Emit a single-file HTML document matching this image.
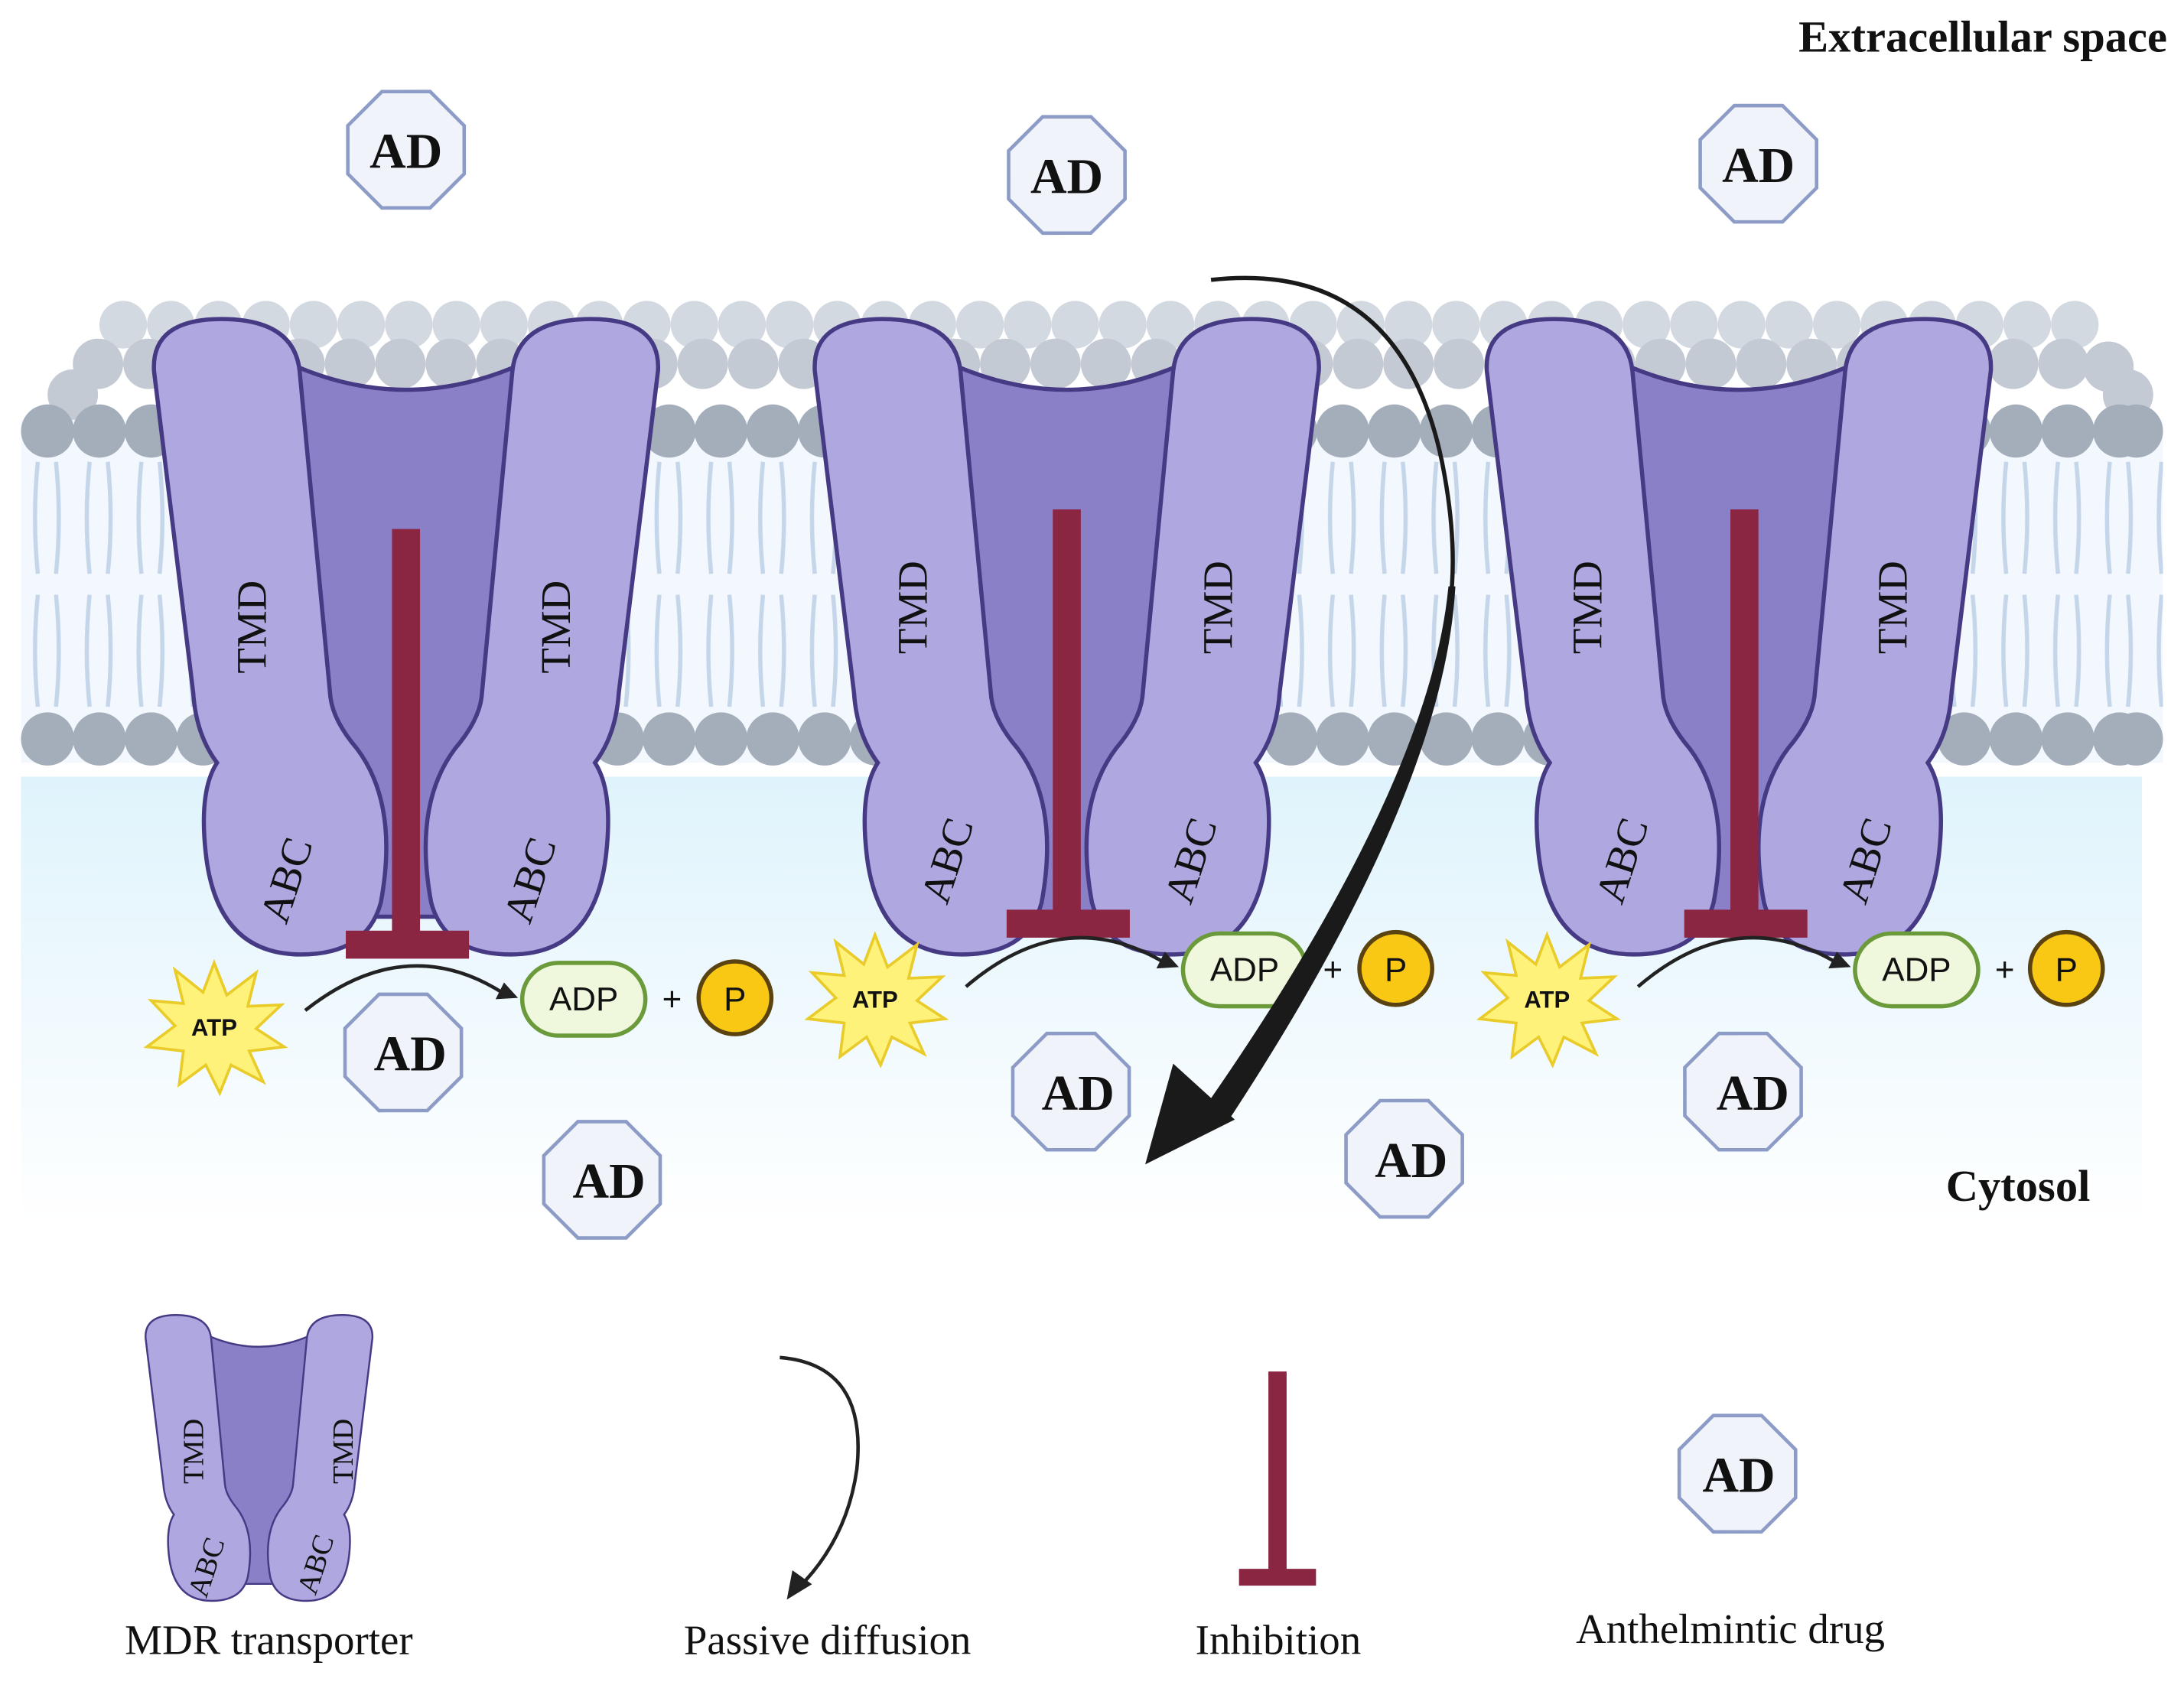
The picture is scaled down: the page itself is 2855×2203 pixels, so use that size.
<!DOCTYPE html>
<html><head><meta charset="utf-8"><style>
html,body{margin:0;padding:0;background:#fff}
svg{display:block}
.serif{font-family:"Liberation Serif",serif}
.sans{font-family:"Liberation Sans",sans-serif}
</style></head><body>
<svg width="2855" height="2203" viewBox="0 0 1560 1204" preserveAspectRatio="none" xmlns="http://www.w3.org/2000/svg">
<defs>
<linearGradient id="cyto" x1="0" y1="0" x2="0" y2="1">
<stop offset="0" stop-color="#dff3fc"/><stop offset="1" stop-color="#ffffff"/></linearGradient>
<pattern id="tails" x="15" y="0" width="37" height="1204" patternUnits="userSpaceOnUse">
<path d="M12,330 Q8,370 12,410 M25,330 Q29,370 25,410 M12,425 Q8,465 12,505 M25,425 Q29,465 25,505" stroke="#c5d5ea" stroke-width="3" fill="none"/>
</pattern>
<g id="tr">
<path d="M-78,262 Q0,295 78,262 L58,520 L32,655 L-32,655 L-58,520 Z" fill="#8980c8" stroke="#463a85" stroke-width="3"/>
<path d="M-180,265 Q-182,228 -132,228 Q-80,228 -76,265 L-54,498 Q-52,515 -35,535 Q-5,575 -18,645 Q-28,682 -75,682 Q-135,682 -143,610 Q-148,565 -135,545 Q-150,525 -152,495 Z" fill="#afa8e0" stroke="#463a85" stroke-width="3"/>
<path d="M180,265 Q182,228 132,228 Q80,228 76,265 L54,498 Q52,515 35,535 Q5,575 18,645 Q28,682 75,682 Q135,682 143,610 Q148,565 135,545 Q150,525 152,495 Z" fill="#afa8e0" stroke="#463a85" stroke-width="3"/>
</g>
<g id="ad"><polygon points="45,0 31.8,31.8 0,45 -31.8,31.8 -45,0 -31.8,-31.8 0,-45 31.8,-31.8" transform="rotate(22.5)" fill="#f1f3fb" stroke="#8c9cc6" stroke-width="2.5"/></g>
<g id="atp"><polygon points="0,-45 9,-22 30,-38 24,-14 48,-15 30,2 50,15 25,18 35,40 12,28 4,48 -6,28 -25,42 -22,18 -48,15 -28,0 -45,-18 -22,-16 -28,-40 -8,-24" fill="#fff27a" stroke="#e9cc2a" stroke-width="2"/></g>
</defs>
<rect width="1560" height="1204" fill="#fff"/>
<rect x="15" y="555" width="1515" height="320" fill="url(#cyto)"/>
<rect x="15" y="300" width="1530" height="245" fill="#f2f8fd"/>
<rect x="15" y="300" width="1530" height="245" fill="url(#tails)"/>
<g fill="#d3d9e0">
<circle cx="88" cy="232" r="17"/><circle cx="122" cy="232" r="17"/><circle cx="156" cy="232" r="17"/><circle cx="190" cy="232" r="17"/><circle cx="224" cy="232" r="17"/><circle cx="258" cy="232" r="17"/><circle cx="292" cy="232" r="17"/><circle cx="326" cy="232" r="17"/><circle cx="360" cy="232" r="17"/><circle cx="394" cy="232" r="17"/><circle cx="428" cy="232" r="17"/><circle cx="462" cy="232" r="17"/><circle cx="496" cy="232" r="17"/><circle cx="530" cy="232" r="17"/><circle cx="564" cy="232" r="17"/><circle cx="598" cy="232" r="17"/><circle cx="632" cy="232" r="17"/><circle cx="666" cy="232" r="17"/><circle cx="700" cy="232" r="17"/><circle cx="734" cy="232" r="17"/><circle cx="768" cy="232" r="17"/><circle cx="802" cy="232" r="17"/><circle cx="836" cy="232" r="17"/><circle cx="870" cy="232" r="17"/><circle cx="904" cy="232" r="17"/><circle cx="938" cy="232" r="17"/><circle cx="972" cy="232" r="17"/><circle cx="1006" cy="232" r="17"/><circle cx="1040" cy="232" r="17"/><circle cx="1074" cy="232" r="17"/><circle cx="1108" cy="232" r="17"/><circle cx="1142" cy="232" r="17"/><circle cx="1176" cy="232" r="17"/><circle cx="1210" cy="232" r="17"/><circle cx="1244" cy="232" r="17"/><circle cx="1278" cy="232" r="17"/><circle cx="1312" cy="232" r="17"/><circle cx="1346" cy="232" r="17"/><circle cx="1380" cy="232" r="17"/><circle cx="1414" cy="232" r="17"/><circle cx="1448" cy="232" r="17"/><circle cx="1482" cy="232" r="17"/>
</g>
<g fill="#c3cad3">
<circle cx="70" cy="260" r="18"/><circle cx="106" cy="260" r="18"/><circle cx="142" cy="260" r="18"/><circle cx="178" cy="260" r="18"/><circle cx="214" cy="260" r="18"/><circle cx="250" cy="260" r="18"/><circle cx="286" cy="260" r="18"/><circle cx="322" cy="260" r="18"/><circle cx="358" cy="260" r="18"/><circle cx="394" cy="260" r="18"/><circle cx="430" cy="260" r="18"/><circle cx="466" cy="260" r="18"/><circle cx="502" cy="260" r="18"/><circle cx="538" cy="260" r="18"/><circle cx="574" cy="260" r="18"/><circle cx="610" cy="260" r="18"/><circle cx="646" cy="260" r="18"/><circle cx="682" cy="260" r="18"/><circle cx="718" cy="260" r="18"/><circle cx="754" cy="260" r="18"/><circle cx="790" cy="260" r="18"/><circle cx="826" cy="260" r="18"/><circle cx="862" cy="260" r="18"/><circle cx="898" cy="260" r="18"/><circle cx="934" cy="260" r="18"/><circle cx="970" cy="260" r="18"/><circle cx="1006" cy="260" r="18"/><circle cx="1042" cy="260" r="18"/><circle cx="1078" cy="260" r="18"/><circle cx="1114" cy="260" r="18"/><circle cx="1150" cy="260" r="18"/><circle cx="1186" cy="260" r="18"/><circle cx="1222" cy="260" r="18"/><circle cx="1258" cy="260" r="18"/><circle cx="1294" cy="260" r="18"/><circle cx="1330" cy="260" r="18"/><circle cx="1366" cy="260" r="18"/><circle cx="1402" cy="260" r="18"/><circle cx="1438" cy="260" r="18"/><circle cx="1474" cy="260" r="18"/><circle cx="1506" cy="262" r="18"/>
<circle cx="52" cy="282" r="18"/><circle cx="1520" cy="282" r="18"/>
</g>
<g fill="#a4adba">
<circle cx="34" cy="308" r="19"/><circle cx="71" cy="308" r="19"/><circle cx="108" cy="308" r="19"/><circle cx="145" cy="308" r="19"/><circle cx="182" cy="308" r="19"/><circle cx="219" cy="308" r="19"/><circle cx="256" cy="308" r="19"/><circle cx="293" cy="308" r="19"/><circle cx="330" cy="308" r="19"/><circle cx="367" cy="308" r="19"/><circle cx="404" cy="308" r="19"/><circle cx="441" cy="308" r="19"/><circle cx="478" cy="308" r="19"/><circle cx="515" cy="308" r="19"/><circle cx="552" cy="308" r="19"/><circle cx="589" cy="308" r="19"/><circle cx="626" cy="308" r="19"/><circle cx="663" cy="308" r="19"/><circle cx="700" cy="308" r="19"/><circle cx="737" cy="308" r="19"/><circle cx="774" cy="308" r="19"/><circle cx="811" cy="308" r="19"/><circle cx="848" cy="308" r="19"/><circle cx="885" cy="308" r="19"/><circle cx="922" cy="308" r="19"/><circle cx="959" cy="308" r="19"/><circle cx="996" cy="308" r="19"/><circle cx="1033" cy="308" r="19"/><circle cx="1070" cy="308" r="19"/><circle cx="1107" cy="308" r="19"/><circle cx="1144" cy="308" r="19"/><circle cx="1181" cy="308" r="19"/><circle cx="1218" cy="308" r="19"/><circle cx="1255" cy="308" r="19"/><circle cx="1292" cy="308" r="19"/><circle cx="1329" cy="308" r="19"/><circle cx="1366" cy="308" r="19"/><circle cx="1403" cy="308" r="19"/><circle cx="1440" cy="308" r="19"/><circle cx="1477" cy="308" r="19"/><circle cx="1514" cy="308" r="19"/><circle cx="1526" cy="308" r="19"/>
<circle cx="34" cy="528" r="19"/><circle cx="71" cy="528" r="19"/><circle cx="108" cy="528" r="19"/><circle cx="145" cy="528" r="19"/><circle cx="182" cy="528" r="19"/><circle cx="219" cy="528" r="19"/><circle cx="256" cy="528" r="19"/><circle cx="293" cy="528" r="19"/><circle cx="330" cy="528" r="19"/><circle cx="367" cy="528" r="19"/><circle cx="404" cy="528" r="19"/><circle cx="441" cy="528" r="19"/><circle cx="478" cy="528" r="19"/><circle cx="515" cy="528" r="19"/><circle cx="552" cy="528" r="19"/><circle cx="589" cy="528" r="19"/><circle cx="626" cy="528" r="19"/><circle cx="663" cy="528" r="19"/><circle cx="700" cy="528" r="19"/><circle cx="737" cy="528" r="19"/><circle cx="774" cy="528" r="19"/><circle cx="811" cy="528" r="19"/><circle cx="848" cy="528" r="19"/><circle cx="885" cy="528" r="19"/><circle cx="922" cy="528" r="19"/><circle cx="959" cy="528" r="19"/><circle cx="996" cy="528" r="19"/><circle cx="1033" cy="528" r="19"/><circle cx="1070" cy="528" r="19"/><circle cx="1107" cy="528" r="19"/><circle cx="1144" cy="528" r="19"/><circle cx="1181" cy="528" r="19"/><circle cx="1218" cy="528" r="19"/><circle cx="1255" cy="528" r="19"/><circle cx="1292" cy="528" r="19"/><circle cx="1329" cy="528" r="19"/><circle cx="1366" cy="528" r="19"/><circle cx="1403" cy="528" r="19"/><circle cx="1440" cy="528" r="19"/><circle cx="1477" cy="528" r="19"/><circle cx="1514" cy="528" r="19"/><circle cx="1526" cy="528" r="19"/>
</g>

<use href="#tr" transform="translate(290,0)"/>
<use href="#tr" transform="translate(762,0)"/>
<use href="#tr" transform="translate(1242,0)"/>

<g fill="#8a2542">
<rect x="280" y="378" width="20" height="290"/><rect x="247" y="665" width="88" height="20"/>
<rect x="752" y="364" width="20" height="290"/><rect x="719" y="650" width="88" height="20"/>
<rect x="1236" y="364" width="20" height="290"/><rect x="1203" y="650" width="88" height="20"/>
</g>

<g font-size="30" fill="#111" class="serif" text-anchor="middle">
<text transform="translate(190,448) rotate(-90)">TMD</text>
<text transform="translate(407,448) rotate(-90)">TMD</text>
<text transform="translate(214,632) rotate(-72)">ABC</text>
<text transform="translate(388,632) rotate(-72)">ABC</text>
<text transform="translate(662,434) rotate(-90)">TMD</text>
<text transform="translate(880,434) rotate(-90)">TMD</text>
<text transform="translate(686,618) rotate(-72)">ABC</text>
<text transform="translate(860,618) rotate(-72)">ABC</text>
<text transform="translate(1144,434) rotate(-90)">TMD</text>
<text transform="translate(1362,434) rotate(-90)">TMD</text>
<text transform="translate(1168,618) rotate(-72)">ABC</text>
<text transform="translate(1342,618) rotate(-72)">ABC</text>
</g>

<use href="#atp" transform="translate(153,733)"/>
<use href="#atp" transform="translate(625,713)"/>
<use href="#atp" transform="translate(1105,713)"/>
<g class="sans" font-weight="bold" font-size="17" text-anchor="middle" fill="#111">
<text x="153" y="740">ATP</text>
<text x="625" y="720">ATP</text>
<text x="1105" y="720">ATP</text>
</g>
<g fill="none" stroke="#222" stroke-width="2.5">
<path d="M218,722 Q290,665 360,710"/><path d="M690,705 Q760,645 832,688"/><path d="M1170,705 Q1240,645 1312,688"/>
</g>
<g fill="#222">
<polygon points="370,713 354,714 360,702"/><polygon points="842,691 826,692 832,680"/><polygon points="1322,691 1306,692 1312,680"/>
</g>
<g fill="#eff7dc" stroke="#6a9a3a" stroke-width="3">
<rect x="373" y="688" width="88" height="52" rx="26"/><rect x="845" y="667" width="88" height="52" rx="26"/><rect x="1325" y="667" width="88" height="52" rx="26"/>
</g>
<g fill="#f8c815" stroke="#5a4310" stroke-width="3">
<circle cx="525" cy="713" r="26"/><circle cx="997" cy="692" r="26"/><circle cx="1476" cy="692" r="26"/>
</g>
<g class="sans" font-size="24" text-anchor="middle" fill="#111">
<text x="417" y="722">ADP</text>
<text x="889" y="701">ADP</text>
<text x="1369" y="701">ADP</text>
<text x="480" y="722">+</text>
<text x="952" y="701">+</text>
<text x="1432" y="701">+</text>
<text x="525" y="722">P</text>
<text x="997" y="701">P</text>
<text x="1476" y="701">P</text>
</g>

<!-- big passive diffusion arrow -->
<path d="M865,200 Q1000,185 1030,330 Q1040,380 1037,420" fill="none" stroke="#1a1a1a" stroke-width="3"/>
<path d="M1035.5,420 Q1022,560 864,788 L878,798 Q1030,566 1038.5,420 Z" fill="#1a1a1a" stroke="#1a1a1a" stroke-width="2"/>
<polygon points="818,832 838,760 882,800" fill="#1a1a1a"/>

<use href="#ad" transform="translate(290,107)"/>
<use href="#ad" transform="translate(762,125)"/>
<use href="#ad" transform="translate(1256,117)"/>
<use href="#ad" transform="translate(288,752)"/>
<use href="#ad" transform="translate(430,843)"/>
<use href="#ad" transform="translate(765,780)"/>
<use href="#ad" transform="translate(1003,828)"/>
<use href="#ad" transform="translate(1245,780)"/>
<use href="#ad" transform="translate(1241,1053)"/>
<g class="serif" font-size="36" font-weight="bold" text-anchor="middle" fill="#111">
<text x="290" y="120">AD</text><text x="762" y="138">AD</text><text x="1256" y="130">AD</text>
<text x="293" y="765">AD</text><text x="435" y="856">AD</text><text x="770" y="793">AD</text>
<text x="1008" y="841">AD</text><text x="1252" y="793">AD</text><text x="1242" y="1066">AD</text>
</g>

<g class="serif" font-size="32" font-weight="bold" fill="#111">
<text x="1548" y="37" text-anchor="end">Extracellular space</text>
<text x="1493" y="858" text-anchor="end">Cytosol</text>
</g>

<use href="#tr" transform="translate(185,837) scale(0.45)"/>
<g class="serif" font-size="21" fill="#111" text-anchor="middle">
<text transform="translate(145,1037) rotate(-90)">TMD</text>
<text transform="translate(252,1037) rotate(-90)">TMD</text>
<text transform="translate(154,1122) rotate(-72)">ABC</text>
<text transform="translate(232,1120) rotate(-72)">ABC</text>
</g>
<path d="M557,970 Q620,975 612,1050 Q605,1100 570,1135" fill="none" stroke="#222" stroke-width="2.5"/>
<polygon points="562,1143 566,1122 580,1132" fill="#222"/>
<rect x="906" y="980" width="13" height="145" fill="#8a2542"/>
<rect x="885" y="1121" width="55" height="12" fill="#8a2542"/>
<g class="serif" font-size="30" fill="#111" text-anchor="middle">
<text x="192" y="1182">MDR transporter</text>
<text x="591" y="1182">Passive diffusion</text>
<text x="913" y="1182">Inhibition</text>
<text x="1236" y="1174">Anthelmintic drug</text>
</g>
</svg>
</body></html>
